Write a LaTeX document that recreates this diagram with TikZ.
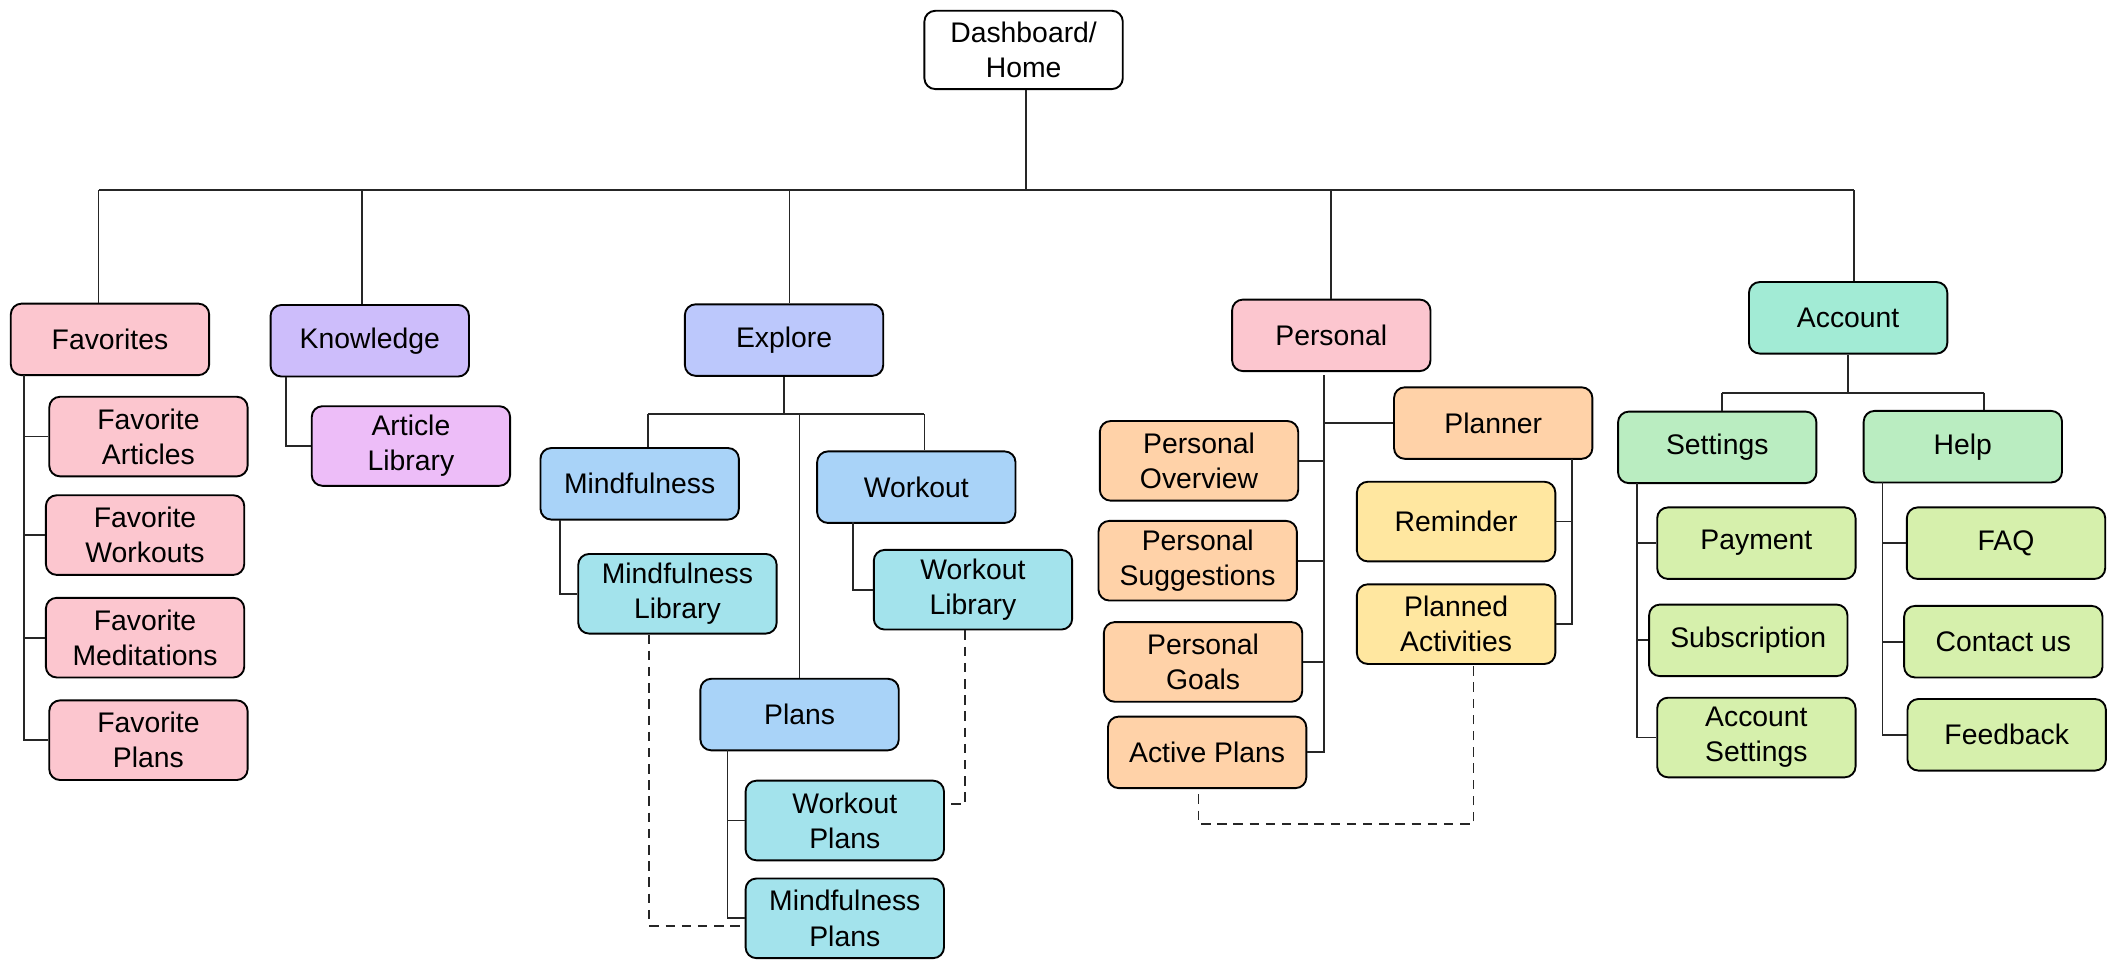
\documentclass[tikz,border=0pt]{standalone}
\usepackage{fontspec}
\setmainfont{Liberation Sans}
\definecolor{cRed}{HTML}{FCC6CF}
\definecolor{cViolet}{HTML}{CDBDFB}
\definecolor{cGrape}{HTML}{EDBDF8}
\definecolor{cIndigo}{HTML}{BCC8FC}
\definecolor{cBlue}{HTML}{A9D3F8}
\definecolor{cCyan}{HTML}{A3E3EC}
\definecolor{cOrange}{HTML}{FFD2A8}
\definecolor{cYellow}{HTML}{FFE7A0}
\definecolor{cTeal}{HTML}{A2EBD5}
\definecolor{cGreen}{HTML}{BAEDC1}
\definecolor{cLime}{HTML}{D6F0AC}
\tikzset{
  box/.style={draw=black, line width=1.4pt, rounded corners=8pt, align=center,
    font=\fontsize{21}{26}\selectfont, inner sep=0pt, minimum width=147pt, minimum height=53pt},
  tall/.style={minimum height=59pt},
  conn/.style={line width=1.3pt, draw=black!85},
  dconn/.style={line width=1.2pt, draw=black!85, dash pattern=on 7pt off 5pt}
}
\begin{document}
\begin{tikzpicture}[x=1pt,y=-1pt]
\useasboundingbox (0,0) rectangle (1568,717);
% nodes
\node[box, fill=white, minimum height=58pt] (dash) at (758.5,37) {Dashboard/\\Home};
\node[box, fill=cRed] (fav) at (81.5,251.5) {Favorites};
\node[box, fill=cViolet] (know) at (274,252.5) {Knowledge};
\node[box, fill=cIndigo] (expl) at (581,252) {Explore};
\node[box, fill=cRed] (pers) at (986.5,248.5) {Personal};
\node[box, fill=cTeal] (acct) at (1369.5,235.5) {Account};
\node[box, tall, fill=cRed] (favA) at (110,323.5) {Favorite\\Articles};
\node[box, tall, fill=cRed] (favW) at (107.5,396.5) {Favorite\\Workouts};
\node[box, tall, fill=cRed] (favM) at (107.5,472.5) {Favorite\\Meditations};
\node[box, tall, fill=cRed] (favP) at (110,548.5) {Favorite\\Plans};
\node[box, tall, fill=cGrape] (artl) at (304.5,330.5) {Article\\Library};
\node[box, fill=cBlue] (mind) at (474,358.5) {Mindfulness};
\node[box, fill=cBlue] (work) at (679,361) {Workout};
\node[box, tall, fill=cCyan] (mlib) at (502,440) {Mindfulness\\Library};
\node[box, tall, fill=cCyan] (wlib) at (721,437) {Workout\\Library};
\node[box, fill=cBlue] (plans) at (592.5,529.5) {Plans};
\node[box, tall, fill=cCyan] (wpl) at (626,608) {Workout\\Plans};
\node[box, tall, fill=cCyan] (mpl) at (626,680.5) {Mindfulness\\Plans};
\node[box, tall, fill=cOrange] (pover) at (888.5,341.5) {Personal\\Overview};
\node[box, tall, fill=cOrange] (psugg) at (887.5,415.5) {Personal\\Suggestions};
\node[box, tall, fill=cOrange] (pgoal) at (891.5,490.5) {Personal\\Goals};
\node[box, fill=cOrange] (aplan) at (894.5,557.5) {Active Plans};
\node[box, fill=cOrange] (planner) at (1106.5,313.5) {Planner};
\node[box, tall, fill=cYellow] (remind) at (1079,386.5) {Reminder};
\node[box, tall, fill=cYellow] (pact) at (1079,462.5) {Planned\\Activities};
\node[box, fill=cGreen] (settings) at (1272.5,331.5) {Settings};
\node[box, fill=cGreen] (help) at (1454.5,331) {Help};
\node[box, fill=cLime] (pay) at (1301.5,402.5) {Payment};
\node[box, fill=cLime] (subs) at (1295.5,474.5) {Subscription};
\node[box, tall, fill=cLime] (accs) at (1301.5,546.5) {Account\\Settings};
\node[box, fill=cLime] (faq) at (1486.5,402.5) {FAQ};
\node[box, fill=cLime] (contact) at (1484.5,475.5) {Contact us};
\node[box, fill=cLime] (feedback) at (1487,544.5) {Feedback};
% coordinates
\coordinate (busL) at (73,141);
\coordinate (busR) at (1374,141);
\coordinate (fx) at (18,278);
\coordinate (kx) at (212,279);
\coordinate (ebL) at (480,307);
\coordinate (ebR) at (685,307);
\coordinate (mx) at (415,385);
\coordinate (wx) at (632,387);
\coordinate (plx0) at (539,556);
\coordinate (px) at (981,278);
\coordinate (plx) at (1165,340);
\coordinate (abL) at (1276,291);
\coordinate (abR) at (1470,291);
\coordinate (sx) at (1213,358);
\coordinate (hx) at (1395,357);
% top bus
\draw[conn] ([xshift=1.5pt]dash.south) -- ([xshift=1.5pt]dash.south |- busL);
\draw[conn] (busL) -- (busR);
\draw[conn] (busL) -- (busL |- fav.north);
\draw[conn] ([xshift=-6pt]know.north |- busL) -- ([xshift=-6pt]know.north);
\draw[conn] ([xshift=4pt]expl.north |- busL) -- ([xshift=4pt]expl.north);
\draw[conn] (pers.north |- busL) -- (pers.north);
\draw[conn] (busR) -- (busR |- acct.north);
% favorites
\draw[conn] (fx) |- (favP.west);
\draw[conn] (fx |- favA.west) -- (favA.west);
\draw[conn] (fx |- favW.west) -- (favW.west);
\draw[conn] (fx |- favM.west) -- (favM.west);
% knowledge
\draw[conn] (kx) |- (artl.west);
% explore
\draw[conn] (expl.south) -- (expl.south |- ebL);
\draw[conn] (ebL) -- (ebR);
\draw[conn] (ebL) -- (ebL |- mind.north);
\draw[conn] (ebR) -- (ebR |- work.north);
\draw[conn] (ebL -| plans.north) -- (plans.north);
\draw[conn] (mx) |- (mlib.west);
\draw[conn] (wx) |- (wlib.west);
\draw[conn] (plx0) |- (mpl.west);
\draw[conn] (plx0 |- wpl.west) -- (wpl.west);
\draw[dconn] ([xshift=-21pt]mlib.south) |- ([yshift=-5.5pt]mpl.west);
\draw[dconn] ([xshift=-6pt]wlib.south) |- ([yshift=12pt]wpl.east);
% personal
\draw[conn] (px) |- (aplan.east);
\draw[conn] (px |- pover.east) -- (pover.east);
\draw[conn] (px |- psugg.east) -- (psugg.east);
\draw[conn] (px |- pgoal.east) -- (pgoal.east);
\draw[conn] (px |- planner.west) -- (planner.west);
\draw[conn] (plx) |- (pact.east);
\draw[conn] (plx |- remind.east) -- (remind.east);
\draw[dconn] ([xshift=-6.5pt,yshift=-4pt]aplan.south) -- ++(0,22) -| ([xshift=13pt]pact.south);
% account
\draw[conn] (acct.south) -- (acct.south |- abL);
\draw[conn] (abL) -- (abR);
\draw[conn] (abL) -- (abL |- settings.north);
\draw[conn] (abR) -- (abR |- help.north);
\draw[conn] (sx) |- (accs.west);
\draw[conn] (sx |- pay.west) -- (pay.west);
\draw[conn] (sx |- subs.west) -- (subs.west);
\draw[conn] (hx) |- (feedback.west);
\draw[conn] (hx |- faq.west) -- (faq.west);
\draw[conn] (hx |- contact.west) -- (contact.west);
\end{tikzpicture}
\end{document}
